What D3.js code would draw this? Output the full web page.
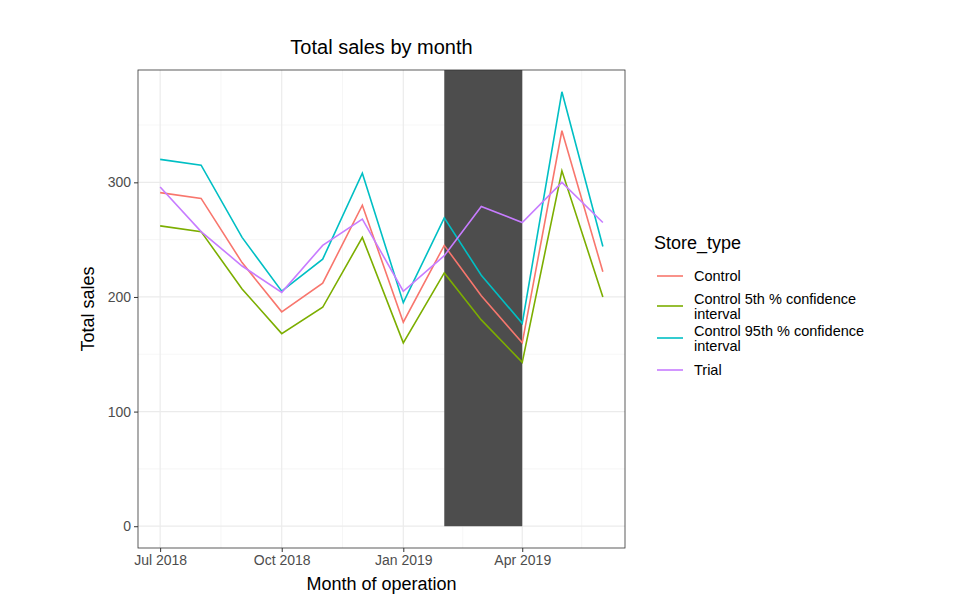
<!DOCTYPE html>
<html><head><meta charset="utf-8">
<script src="https://cdn.jsdelivr.net/npm/d3@7"></script>
<style>body{margin:0;background:#fff;font-family:"Liberation Sans",Arial,sans-serif}</style>
</head><body><svg id="chart" width="968" height="600"></svg>
<script>
const months = ['2018-07','2018-08','2018-09','2018-10','2018-11','2018-12','2019-01','2019-02','2019-03','2019-04','2019-05','2019-06'];
const control = [291,286,230,187,212,280,178,245,201,160,345,222];
const control5 = [262,257,207,168,191,252,160,221,180,143,310,200];
const control95 = [320,315,252,205,233,308,195,269,219,177,379,244];
const trial = [296,257,227,204,245,268,205,236,279,265,300,265];
const seriesNames = ['Control','Control 5th % confidence\ninterval','Control 95th % confidence\ninterval','Trial'];
const seriesColors = ['#F8766D','#7CAE00','#00BFC4','#C77CFF'];
const xTicks = ['2018-07','2018-10','2019-01','2019-04'];
const xTickLabels = ['Jul 2018','Oct 2018','Jan 2019','Apr 2019'];
const yTicks = [0,100,200,300];
const trialPeriod = ['2019-02','2019-04'];

const parse = d3.timeParse('%Y-%m');
const dates = months.map(parse);
const all = [control, control5, control95, trial];

const svg = d3.select('#chart');
const L = 138, R = 625, T = 70, B = 548;
const span = dates[dates.length-1] - dates[0];
const x = d3.scaleTime()
  .domain([new Date(+dates[0] - span*0.05), new Date(+dates[dates.length-1] + span*0.05)])
  .range([L, R]);
const y = d3.scaleLinear().domain([-19, 398]).range([B, T]);

// grid
const minorX = d3.range(xTicks.length).map(i => {
  const a = +parse(xTicks[i]);
  const b = i+1 < xTicks.length ? +parse(xTicks[i+1]) : a + (a - +parse(xTicks[i-1]));
  return new Date((a+b)/2);
});
svg.selectAll('.mx').data(minorX).enter().append('line')
  .attr('x1', d => x(d)).attr('x2', d => x(d)).attr('y1', T).attr('y2', B)
  .attr('stroke', '#f0f0f0').attr('stroke-width', 0.6);
svg.selectAll('.my').data([50,150,250,350]).enter().append('line')
  .attr('x1', L).attr('x2', R).attr('y1', d => y(d)).attr('y2', d => y(d))
  .attr('stroke', '#f0f0f0').attr('stroke-width', 0.6);
svg.selectAll('.gx').data(xTicks.map(parse)).enter().append('line')
  .attr('x1', d => x(d)).attr('x2', d => x(d)).attr('y1', T).attr('y2', B)
  .attr('stroke', '#ebebeb').attr('stroke-width', 1.2);
svg.selectAll('.gy').data(yTicks).enter().append('line')
  .attr('x1', L).attr('x2', R).attr('y1', d => y(d)).attr('y2', d => y(d))
  .attr('stroke', '#ebebeb').attr('stroke-width', 1.2);

// trial period
svg.append('rect')
  .attr('x', x(parse(trialPeriod[0]))).attr('y', T)
  .attr('width', x(parse(trialPeriod[1])) - x(parse(trialPeriod[0])))
  .attr('height', y(0) - T).attr('fill', '#4d4d4d');

// lines
const line = d3.line().x((d,i) => x(dates[i])).y(d => y(d));
all.forEach((s, k) => {
  svg.append('path').datum(s).attr('d', line)
    .attr('fill', 'none').attr('stroke', seriesColors[k]).attr('stroke-width', 1.6);
});

svg.append('rect').attr('x', L).attr('y', T).attr('width', R-L).attr('height', B-T)
  .attr('fill', 'none').attr('stroke', '#333').attr('stroke-width', 0.8);

// axes
const xa = svg.append('g').attr('transform', `translate(0,${B})`)
  .call(d3.axisBottom(x).tickValues(xTicks.map(parse)).tickFormat((d,i) => xTickLabels[i]).tickSize(4).tickPadding(3));
const ya = svg.append('g').attr('transform', `translate(${L},0)`)
  .call(d3.axisLeft(y).tickValues(yTicks).tickSize(4).tickPadding(3));
[xa, ya].forEach(a => {
  a.select('.domain').remove();
  a.selectAll('line').attr('stroke', '#333');
  a.selectAll('text').attr('fill', '#4d4d4d').style('font-size', '14px').style('font-family', '"Liberation Sans",Arial,sans-serif');
});

svg.append('text').attr('x', (L+R)/2).attr('y', 54).attr('text-anchor', 'middle')
  .style('font-size', '20px').text('Total sales by month');
svg.append('text').attr('x', (L+R)/2).attr('y', 590).attr('text-anchor', 'middle')
  .style('font-size', '18px').text('Month of operation');
svg.append('text').attr('transform', `translate(94,${(T+B)/2}) rotate(-90)`).attr('text-anchor', 'middle')
  .style('font-size', '18px').text('Total sales');

// legend
const lg = svg.append('g');
lg.append('text').attr('x', 654).attr('y', 249).style('font-size', '18px').text('Store_type');
const rowsY = [276, 306, 338, 370];
seriesNames.forEach((n, k) => {
  const yy = rowsY[k];
  lg.append('line').attr('x1', 657).attr('x2', 683).attr('y1', yy).attr('y2', yy)
    .attr('stroke', seriesColors[k]).attr('stroke-width', 1.6);
  const parts = n.split('\n');
  const t = lg.append('text').attr('x', 694).attr('y', yy + 5 - (parts.length-1)*7.5).style('font-size', '14.5px');
  parts.forEach((p, j) => t.append('tspan').attr('x', 694).attr('dy', j ? 15 : 0).text(p));
});
</script></body></html>
